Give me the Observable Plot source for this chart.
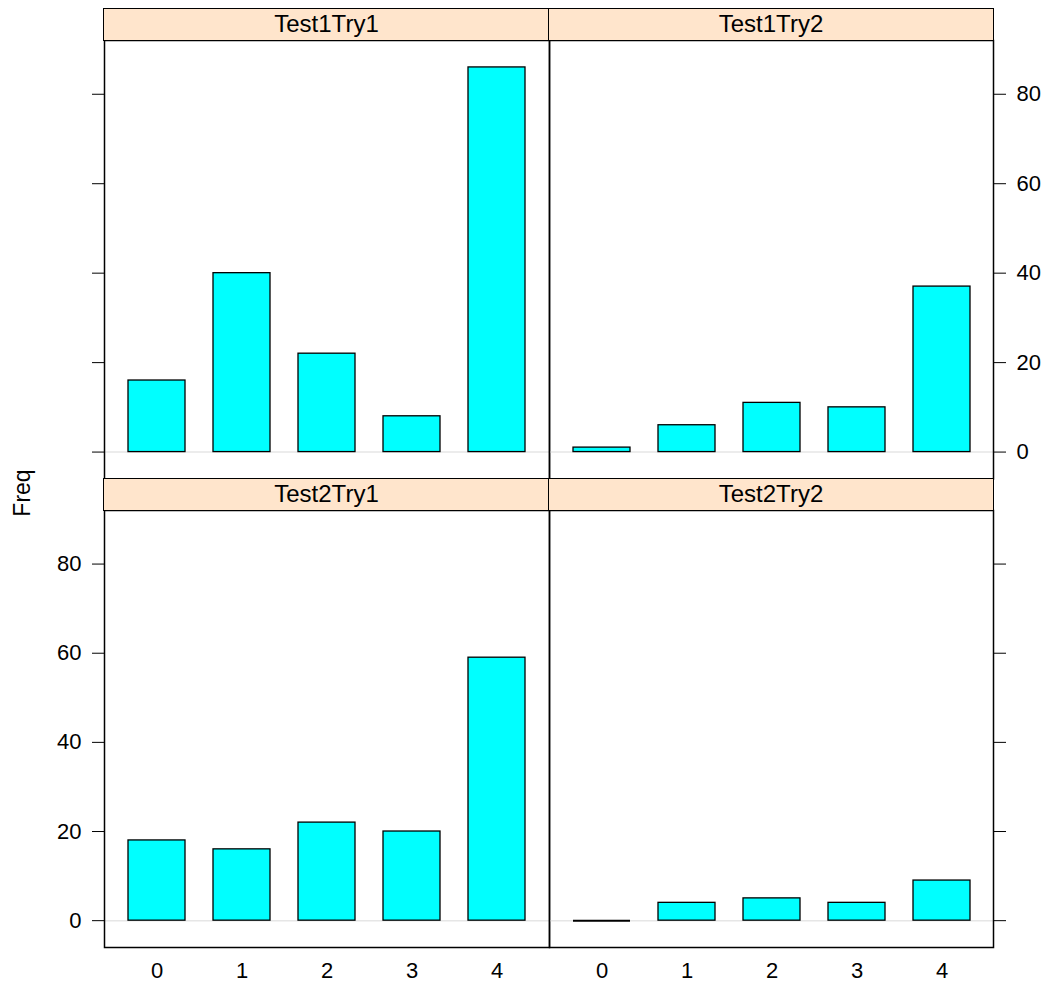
<!DOCTYPE html>
<html>
<head>
<meta charset="utf-8">
<script src="https://cdn.jsdelivr.net/npm/d3@7"></script>
<script src="https://cdn.jsdelivr.net/npm/@observablehq/plot@0.6"></script>
<style>
  html, body { margin: 0; padding: 0; background: white; }
  #chart { position: relative; width: 1046px; height: 983px; background: white; font-family: "Liberation Sans", Arial, sans-serif; }
  #chart svg { position: absolute; left: 0; top: 0; }
  .strip { position: absolute; box-sizing: border-box; background: #ffe5cc; border: 1.5px solid black;
           display: flex; align-items: center; justify-content: center; font-size: 24px; color: black; }
  .ylab { position: absolute; font-size: 23px; transform: translate(-50%, -50%) rotate(-90deg); white-space: nowrap; }
</style>
</head>
<body>
<div id="chart"></div>
<script>
// ---- data ----
const categories = ["0", "1", "2", "3", "4"];
const panelNames = ["Test1Try1", "Test1Try2", "Test2Try1", "Test2Try2"];
const test1try1 = [16, 40, 22, 8, 86];
const test1try2 = [1, 6, 11, 10, 37];
const test2try1 = [18, 16, 22, 20, 59];
const test2try2 = [0, 4, 5, 4, 9];
const yTicks = [0, 20, 40, 60, 80];
const yLabel = "Freq";

const seriesList = [test1try1, test1try2, test2try1, test2try2];

// ---- layout ----
const W = 1046, H = 983;
const colX = [[104, 549], [549, 993]];
const rowY = [[8.5, 40, 478.5], [478.5, 510, 947]]; // strip top, panel top, panel bottom
const yDomain = [-6.02, 92.02];
const font = "Liberation Sans, Arial, sans-serif";

const chart = document.getElementById("chart");

panelNames.forEach((name, i) => {
  const row = Math.floor(i / 2), col = i % 2;
  const [x0, x1] = colX[col];
  const [sTop, pTop, pBot] = rowY[row];
  const data = categories.map((c, k) => ({cat: c, Freq: seriesList[i][k]}));

  // y axis configuration (lattice alternating)
  const yAnchor = col === 0 ? "left" : "right";
  const showYLabels = (col === 0 && row === 1) || (col === 1 && row === 0);

  const plot = Plot.plot({
    width: W,
    height: H,
    marginLeft: x0,
    marginRight: W - x1,
    marginTop: pTop,
    marginBottom: H - pBot,
    style: {background: "transparent", fontSize: "22px", fontFamily: font, color: "black", overflow: "visible"},
    x: {
      type: "band",
      domain: categories,
      paddingInner: 1 / 3,
      paddingOuter: 0.2667,
      axis: row === 1 ? "bottom" : null,
      tickSize: 0,
      tickPadding: 15,
      label: null
    },
    y: {
      domain: yDomain,
      axis: yAnchor,
      ticks: yTicks,
      tickSize: 12,
      tickPadding: 11,
      tickFormat: showYLabels ? (d => String(d)) : (() => ""),
      label: null
    },
    marks: [
      Plot.ruleY([0], {stroke: "#e6e6e6", strokeWidth: 1.5}),
      Plot.barY(data, {x: "cat", y: "Freq", fill: "#00ffff", stroke: "black", strokeWidth: 1.3}),
      Plot.tickY(data.filter(d => d.Freq === 0), {x: "cat", y: "Freq", stroke: "black", strokeWidth: 2}),
      Plot.frame({stroke: "black", strokeWidth: 1.5})
    ]
  });
  chart.appendChild(plot);

  const strip = document.createElement("div");
  strip.className = "strip";
  strip.style.left = (x0 - 0.75) + "px";
  strip.style.top = (sTop - 0.75) + "px";
  strip.style.width = (x1 - x0 + 1.5) + "px";
  strip.style.height = (pTop - sTop + 1.5) + "px";
  strip.textContent = name;
  chart.appendChild(strip);
});

const ylab = document.createElement("div");
ylab.className = "ylab";
ylab.style.left = "22px";
ylab.style.top = "493px";
ylab.textContent = yLabel;
chart.appendChild(ylab);
</script>
</body>
</html>
